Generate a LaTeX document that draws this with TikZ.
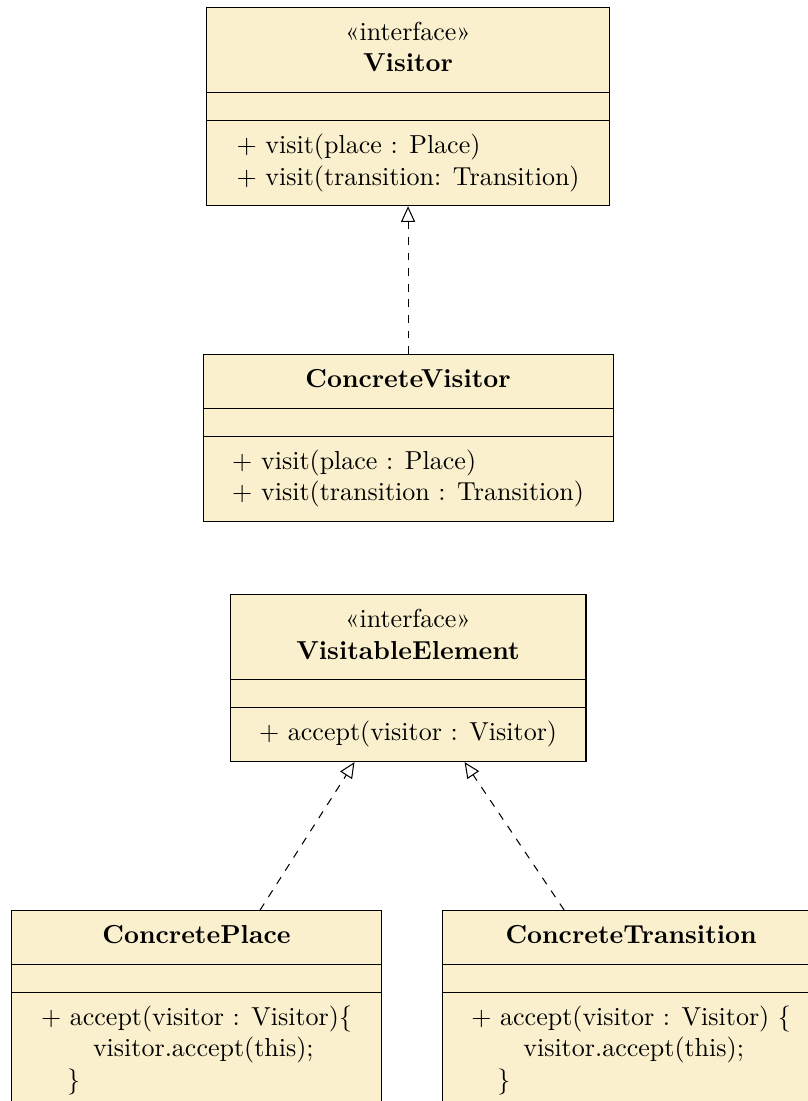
\documentclass[tikz,border=0pt]{standalone}
\usepackage{tikz}
\usetikzlibrary{shapes.multipart,arrows.meta}
\definecolor{classfill}{RGB}{250,240,205}
\newcommand{\noattr}{\rule{0pt}{2.1pt}}

\tikzset{
  umlclass/.style={rectangle split, rectangle split parts=3, draw, fill=classfill,
    inner xsep=10pt, inner ysep=4.15pt, align=center, anchor=north},
  implements/.style={dashed, -{Triangle[open,length=6pt,width=5.4pt]}}
}

\begin{document}
\begin{tikzpicture}
  \useasboundingbox (0,0) rectangle (10.91,-14.88);
  % Visitor side
  \node[umlclass, minimum width=5.45cm] (visitor) at (5.515,-0.095) {
    \strut«interface»\\\textbf{Visitor}\strut
    \nodepart{two}\noattr
    \nodepart[align=left]{three}\strut$+$ visit(place : Place)\\$+$ visit(transition: Transition)\strut};
  \node[umlclass, minimum width=5.54cm] (concretevisitor) at (5.515,-4.785) {
    \strut\textbf{ConcreteVisitor}\strut
    \nodepart{two}\noattr
    \nodepart[align=left]{three}\strut$+$ visit(place : Place)\\$+$ visit(transition : Transition)\strut};
  \draw[implements] (concretevisitor) -- (visitor);

  % element side
  \node[umlclass, minimum width=4.81cm] (element) at (5.515,-8.03) {
    \strut«interface»\\\textbf{VisitableElement}\strut
    \nodepart{two}\noattr
    \nodepart{three}\strut$+$ accept(visitor : Visitor)\strut};
  \node[umlclass, minimum width=4.99cm] (place) at (2.656,-12.30) {
    \strut\textbf{ConcretePlace}\strut
    \nodepart{two}\noattr
    \nodepart[align=left]{three}\strut$+$ accept(visitor : Visitor)\{\\
      \quad\quad visitor.accept(this);\\
      \quad \}\strut};
  \node[umlclass, minimum width=5.11cm] (transition) at (8.53,-12.30) {
    \strut\textbf{ConcreteTransition}\strut
    \nodepart{two}\noattr
    \nodepart[align=left]{three}\strut$+$ accept(visitor : Visitor) \{\\
      \quad\quad visitor.accept(this);\\
      \quad \}\strut};
  \draw[implements] (place) -- (element);
  \draw[implements] (transition) -- (element);
\end{tikzpicture}
\end{document}
